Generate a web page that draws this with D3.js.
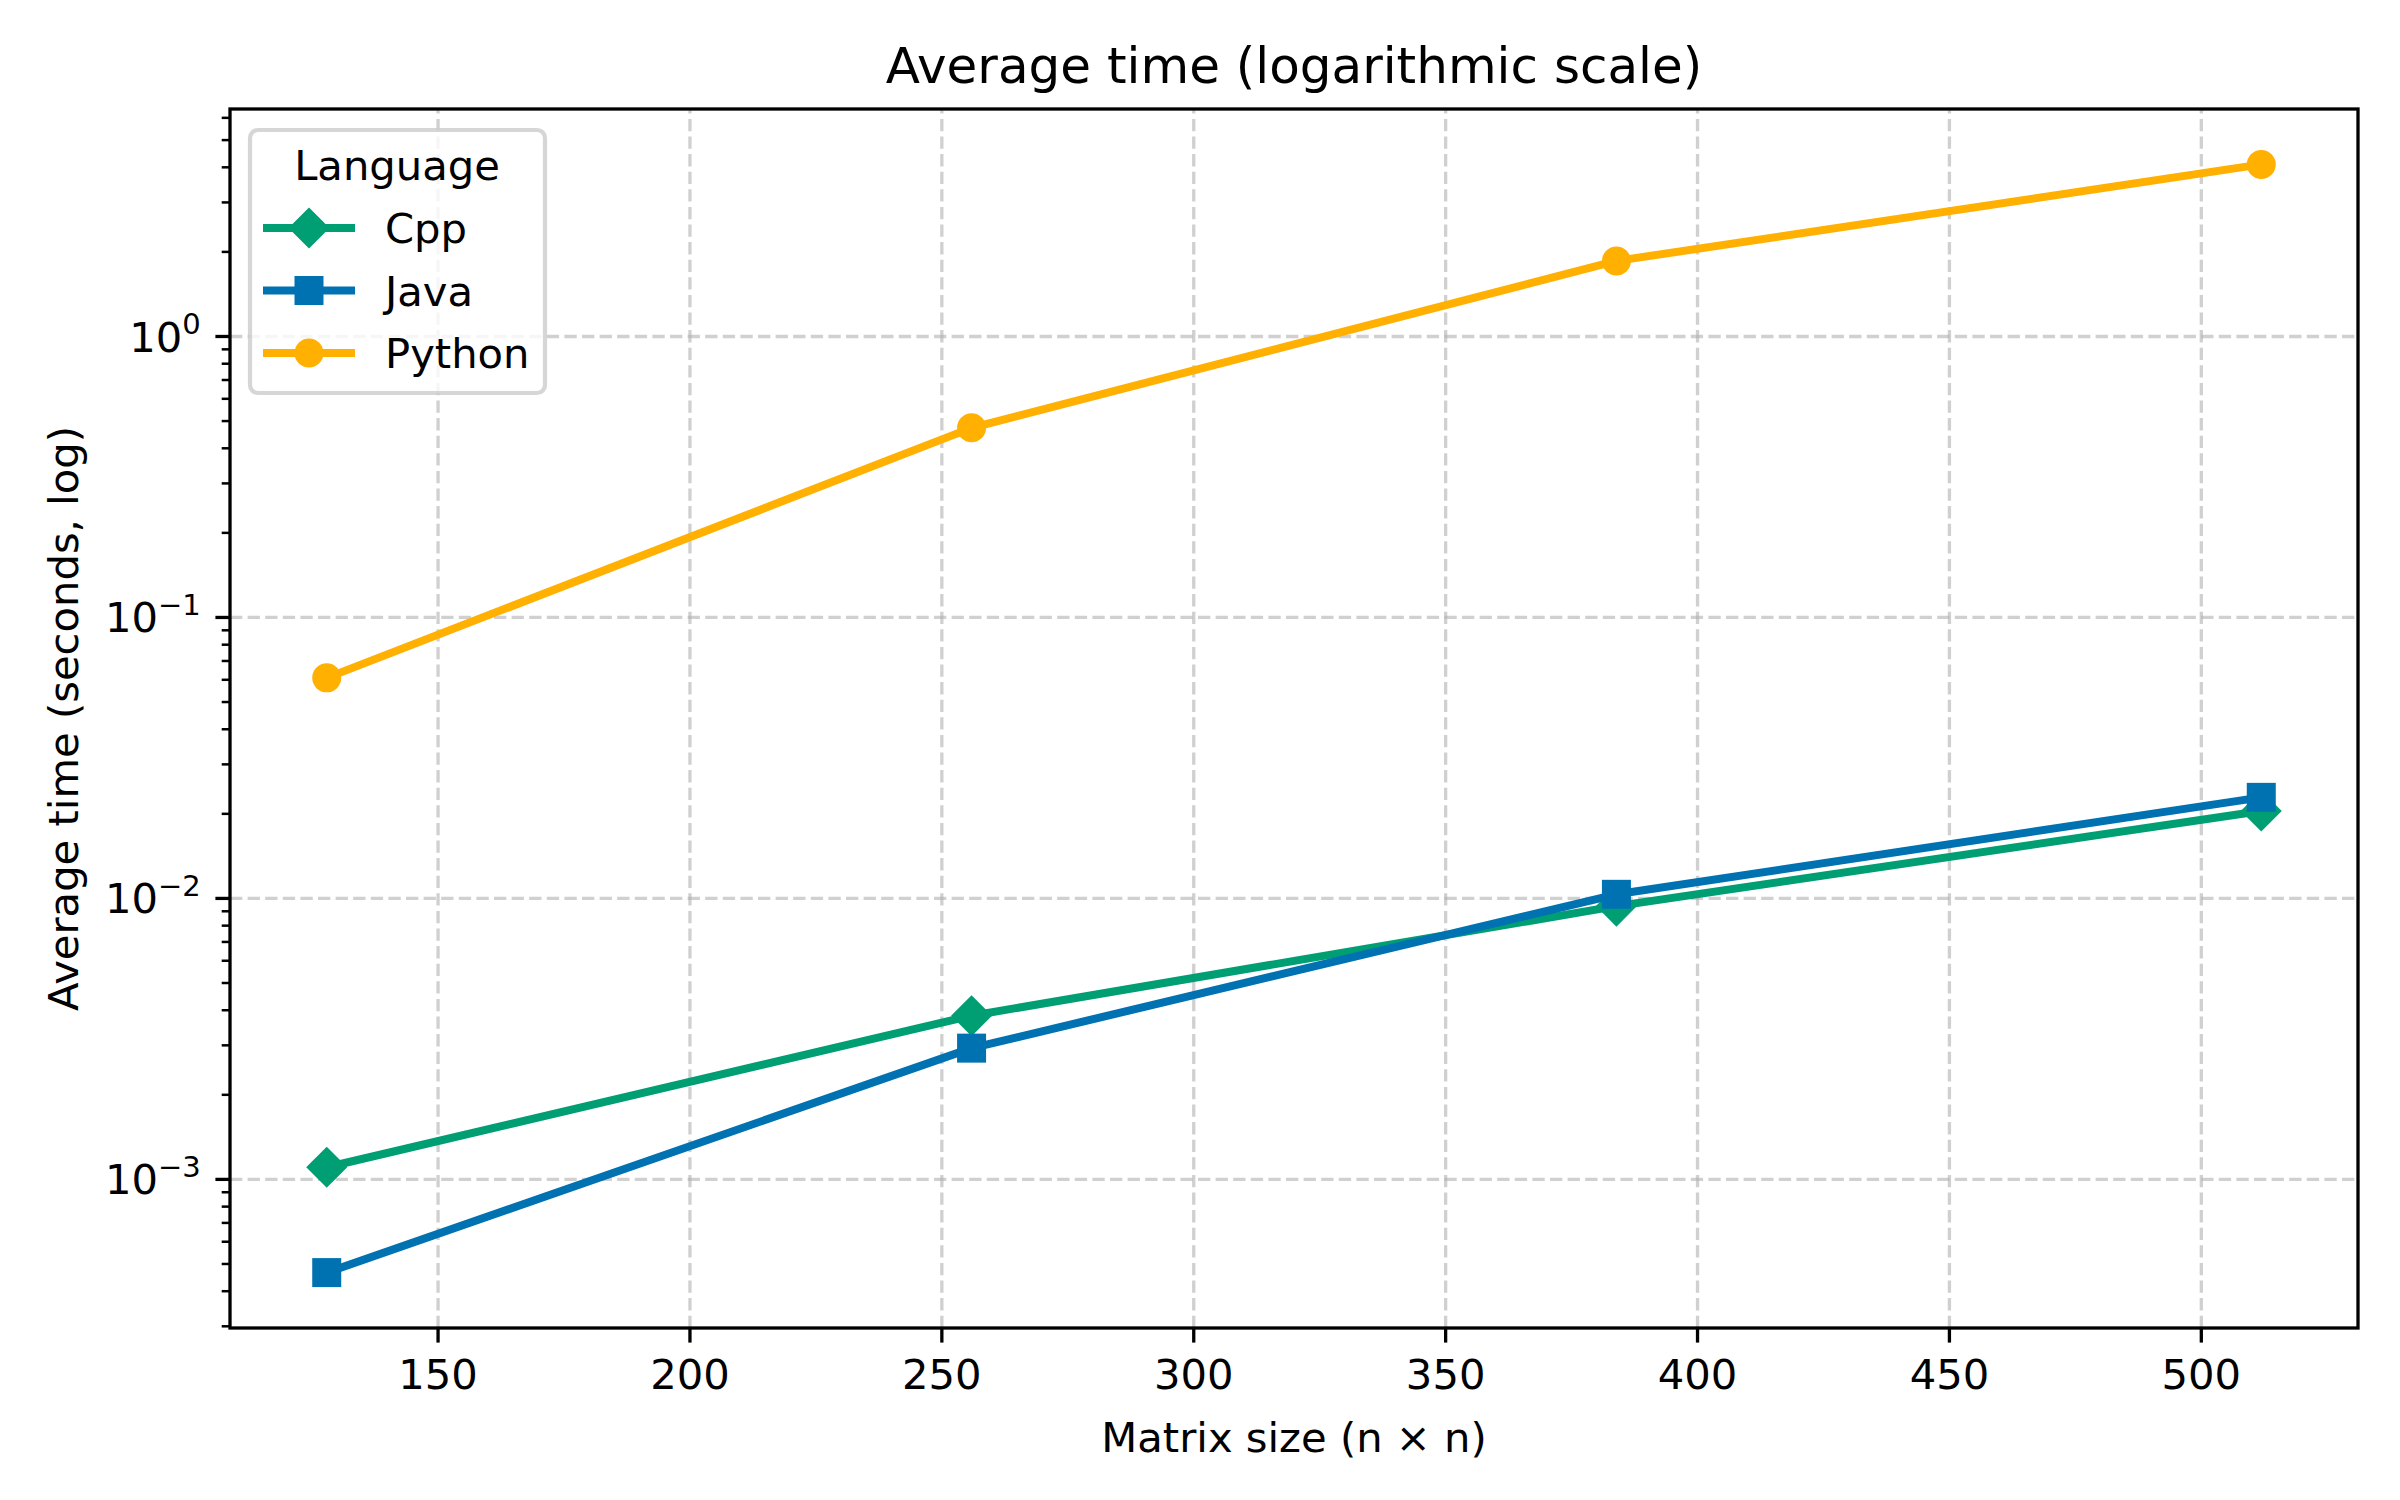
<!DOCTYPE html>
<html>
<head>
<meta charset="utf-8">
<script src="https://cdn.jsdelivr.net/npm/d3@7"></script>
<style>
  body { margin: 0; background: #fff; }
  text { font-family: "DejaVu Sans", sans-serif; fill: #000; }
</style>
</head>
<body>
<div id="chart"></div>
<script>
// data
var sizes = [128, 256, 384, 512];
var cppTimes = [0.0011, 0.00381, 0.00935, 0.0204];
var javaTimes = [0.000464, 0.00292, 0.0103, 0.0228];
var pythonTimes = [0.0607, 0.471, 1.85, 4.08];
var languages = ["Cpp", "Java", "Python"];
var xTicks = [150, 200, 250, 300, 350, 400, 450, 500];
var yExponents = [-3, -2, -1, 0];

var colors = { Cpp: "#009E73", Java: "#0072B2", Python: "#FFB000" };
var markers = { Cpp: "diamond", Java: "square", Python: "circle" };

var svgWidth = 2400;
var svgHeight = 1500;
var margin = { top: 109, right: 42, bottom: 172, left: 230 };
var width = svgWidth - margin.left - margin.right;
var height = svgHeight - margin.top - margin.bottom;

var series = languages.map((name, i) => ({
  name: name,
  values: [cppTimes, javaTimes, pythonTimes][i].map((v, j) => ({ x: sizes[j], y: v }))
}));

var svg = d3.select("#chart").append("svg")
  .attr("width", svgWidth)
  .attr("height", svgHeight);

var chartGroup = svg.append("g")
  .attr("transform", `translate(${margin.left}, ${margin.top})`);

// matplotlib style 5% margins (log space for y)
var xMin = d3.min(sizes), xMax = d3.max(sizes);
var xPad = (xMax - xMin) * 0.05;
var xScale = d3.scaleLinear().domain([xMin - xPad, xMax + xPad]).range([0, width]);

var allY = cppTimes.concat(javaTimes, pythonTimes);
var lo = Math.log10(d3.min(allY)), hi = Math.log10(d3.max(allY));
var yPad = (hi - lo) * 0.05;
var yScale = d3.scaleLog().domain([Math.pow(10, lo - yPad), Math.pow(10, hi + yPad)]).range([height, 0]);

var yMajor = yExponents.map(e => Math.pow(10, e));
var yMinor = [];
for (var e = -4; e <= 0; e++) {
  for (var k = 2; k <= 9; k++) {
    var v = k * Math.pow(10, e);
    if (v >= yScale.domain()[0] && v <= yScale.domain()[1]) yMinor.push(v);
  }
}

// grid
var gridStyle = g => g.selectAll("line")
  .attr("stroke", "#b0b0b0").attr("stroke-opacity", 0.6)
  .attr("stroke-width", 3.3).attr("stroke-dasharray", "12.3,5.3");

chartGroup.append("g")
  .attr("transform", `translate(0, ${height})`)
  .call(d3.axisBottom(xScale).tickValues(xTicks).tickSize(-height).tickFormat(""))
  .call(g => g.select(".domain").remove())
  .call(gridStyle);

chartGroup.append("g")
  .call(d3.axisLeft(yScale).tickValues(yMajor).tickSize(-width).tickFormat(""))
  .call(g => g.select(".domain").remove())
  .call(gridStyle);

// lines and markers
var line = d3.line().x(d => xScale(d.x)).y(d => yScale(d.y));

function markerPath(type) {
  if (type === "square") return d3.symbol(d3.symbolSquare, 29 * 29)();
  if (type === "circle") return d3.symbol(d3.symbolCircle, Math.PI * 14.5 * 14.5)();
  return d3.symbol(d3.symbolSquare, 29 * 29)();
}
function markerTransform(type, x, y) {
  return `translate(${x}, ${y})` + (type === "diamond" ? " rotate(45)" : "");
}

series.forEach(s => {
  var g = chartGroup.append("g");
  g.append("path")
    .datum(s.values)
    .attr("d", line)
    .attr("fill", "none")
    .attr("stroke", colors[s.name])
    .attr("stroke-width", 8)
    .attr("stroke-linejoin", "round");
  g.selectAll(".pt")
    .data(s.values)
    .enter().append("path")
    .attr("d", markerPath(markers[s.name]))
    .attr("transform", d => markerTransform(markers[s.name], xScale(d.x), yScale(d.y)))
    .attr("fill", colors[s.name]);
});

// axes
var xAxis = chartGroup.append("g")
  .attr("transform", `translate(0, ${height})`)
  .call(d3.axisBottom(xScale).tickValues(xTicks).tickSize(14.6).tickPadding(14.6).tickSizeOuter(0));
xAxis.select(".domain").remove();
xAxis.selectAll("line").attr("stroke-width", 3.3);
xAxis.selectAll("text").attr("font-size", 41.7).attr("dy", "0.76em");

var yMinorAxis = chartGroup.append("g")
  .call(d3.axisLeft(yScale).tickValues(yMinor).tickSize(8.3).tickFormat(""));
yMinorAxis.select(".domain").remove();
yMinorAxis.selectAll("line").attr("stroke-width", 2.5);

var yAxis = chartGroup.append("g")
  .call(d3.axisLeft(yScale).tickValues(yMajor).tickSize(14.6).tickPadding(14.6).tickFormat(""));
yAxis.select(".domain").remove();
yAxis.selectAll("line").attr("stroke-width", 3.3);
yAxis.selectAll(".tick text").each(function(d) {
  var t = d3.select(this).attr("font-size", 41.7).attr("dy", "0.36em");
  var exp = Math.round(Math.log10(d));
  t.append("tspan").text("10");
  t.append("tspan").attr("font-size", 29).attr("dy", "-0.6em")
    .text(exp < 0 ? "\u2212" + (-exp) : String(exp));
});

// spines
chartGroup.append("rect")
  .attr("width", width).attr("height", height)
  .attr("fill", "none").attr("stroke", "#000").attr("stroke-width", 3.3);

// titles
svg.append("text")
  .attr("x", margin.left + width / 2).attr("y", 83)
  .attr("text-anchor", "middle").attr("font-size", 50)
  .text("Average time (logarithmic scale)");

svg.append("text")
  .attr("x", margin.left + width / 2).attr("y", 1452)
  .attr("text-anchor", "middle").attr("font-size", 41.7)
  .text("Matrix size (n \u00d7 n)");

svg.append("text")
  .attr("transform", `translate(78, ${margin.top + height / 2}) rotate(-90)`)
  .attr("text-anchor", "middle").attr("font-size", 41.7)
  .text("Average time (seconds, log)");

// legend
var legend = svg.append("g").attr("transform", "translate(250, 130)");
legend.append("rect")
  .attr("width", 295).attr("height", 263).attr("rx", 8)
  .attr("fill", "#fff").attr("fill-opacity", 0.8)
  .attr("stroke", "#cccccc").attr("stroke-opacity", 0.8).attr("stroke-width", 4.2);
legend.append("text")
  .attr("x", 147).attr("y", 50)
  .attr("text-anchor", "middle").attr("font-size", 41.7)
  .text("Language");

var entry = legend.selectAll(".entry")
  .data(languages)
  .enter().append("g")
  .attr("transform", (d, i) => `translate(0, ${98 + i * 62.5})`);
entry.append("line")
  .attr("x1", 13).attr("x2", 105)
  .attr("stroke", d => colors[d]).attr("stroke-width", 8);
entry.append("path")
  .attr("d", d => markerPath(markers[d]))
  .attr("transform", d => markerTransform(markers[d], 59, 0))
  .attr("fill", d => colors[d]);
entry.append("text")
  .attr("x", 135).attr("dy", "0.36em")
  .attr("font-size", 41.7)
  .text(d => d);
</script>
</body>
</html>
